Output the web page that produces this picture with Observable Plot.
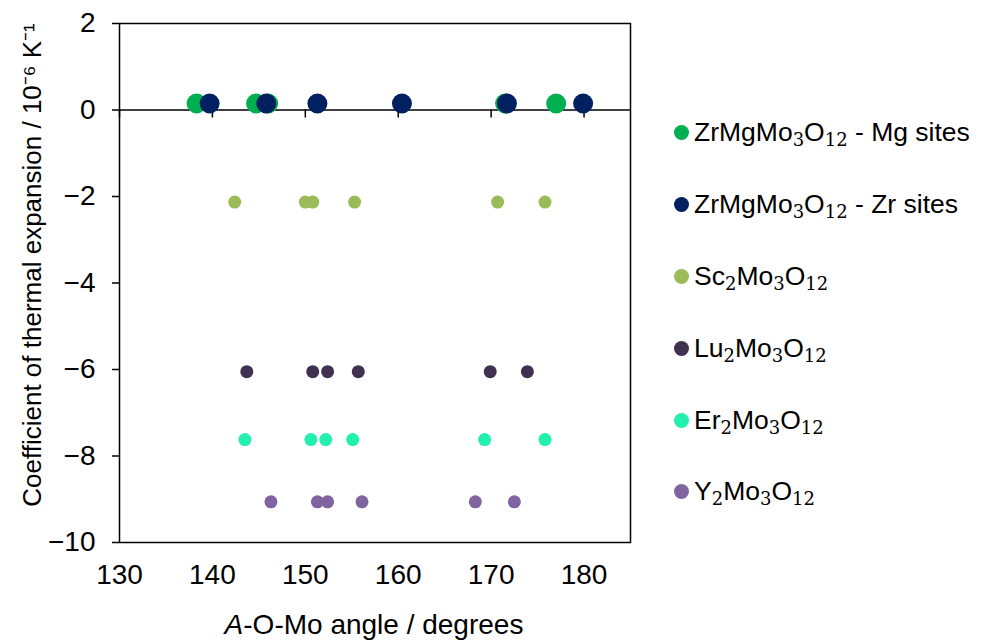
<!DOCTYPE html>
<html><head><meta charset="utf-8">
<script src="https://cdn.jsdelivr.net/npm/d3@7"></script>
<script src="https://cdn.jsdelivr.net/npm/@observablehq/plot@0.6"></script>
<style>
body{margin:0;background:#fff;font-family:"Liberation Sans",Arial,sans-serif;color:#000;}
#wrap{position:relative;width:986px;height:640px;overflow:hidden;}
#chart{position:absolute;left:0;top:0;}
.ytitle{position:absolute;left:31px;top:265px;transform:translate(-50%,-50%) rotate(-90deg);white-space:nowrap;font-size:26px;}
.xtitle{position:absolute;left:374px;top:609px;transform:translateX(-50%);white-space:nowrap;font-size:28px;line-height:32px;}
.legend{position:absolute;left:674px;top:0;}
.item{position:absolute;left:0;white-space:nowrap;font-size:26.5px;line-height:34px;display:flex;align-items:center;transform:translateY(-50%);}
.sw{width:15px;height:15px;border-radius:50%;margin-right:5px;flex:none;}
.item sub{font-family:"DejaVu Serif",serif;font-size:18px;vertical-align:-5px;line-height:0;}
</style></head><body>
<div id="wrap"><div id="chart"></div></div>
<script>
// Series values
const mgX = [138.3, 144.7, 146.0, 171.5, 177.0];
const mgY = [0.15, 0.15, 0.15, 0.15, 0.15];
const zrX = [139.7, 145.8, 151.3, 160.4, 171.7, 179.9];
const zrY = [0.15, 0.15, 0.15, 0.15, 0.15, 0.15];
const scX = [142.4, 150.0, 150.8, 155.3, 170.7, 175.8];
const scY = [-2.13, -2.13, -2.13, -2.13, -2.13, -2.13];
const luX = [143.7, 150.8, 152.4, 155.7, 169.9, 173.9];
const luY = [-6.05, -6.05, -6.05, -6.05, -6.05, -6.05];
const erX = [143.5, 150.6, 152.2, 155.1, 169.3, 175.8];
const erY = [-7.62, -7.62, -7.62, -7.62, -7.62, -7.62];
const yoX = [146.3, 151.3, 152.4, 156.1, 168.3, 172.5];
const yoY = [-9.06, -9.06, -9.06, -9.06, -9.06, -9.06];

const xTicks = [130, 140, 150, 160, 170, 180];
const yTicks = [2, 0, -2, -4, -6, -8, -10];

const seriesNames = ["ZrMgMo3O12 - Mg sites", "ZrMgMo3O12 - Zr sites", "Sc2Mo3O12", "Lu2Mo3O12", "Er2Mo3O12", "Y2Mo3O12"];
const seriesHtml = [
  "ZrMgMo<sub>3</sub>O<sub>12</sub> - Mg sites",
  "ZrMgMo<sub>3</sub>O<sub>12</sub> - Zr sites",
  "Sc<sub>2</sub>Mo<sub>3</sub>O<sub>12</sub>",
  "Lu<sub>2</sub>Mo<sub>3</sub>O<sub>12</sub>",
  "Er<sub>2</sub>Mo<sub>3</sub>O<sub>12</sub>",
  "Y<sub>2</sub>Mo<sub>3</sub>O<sub>12</sub>"
];
const seriesColors = ["#00B050", "#002060", "#9BBB59", "#403151", "#22F0AC", "#8064A2"];
const seriesX = [mgX, zrX, scX, luX, erX, yoX];
const seriesY = [mgY, zrY, scY, luY, erY, yoY];
const seriesR = [10, 10, 6.5, 6.5, 6.5, 6.5];

const minus = d => d < 0 ? "\u2212" + Math.abs(d) : String(d);

const dotMarks = seriesNames.map((name, k) => {
  const data = seriesX[k].map((x, i) => ({series: name, x, y: seriesY[k][i]}));
  return Plot.dot(data, {x: "x", y: "y", r: seriesR[k], fill: seriesColors[k], stroke: "none"});
});

const chart = Plot.plot({
  width: 640,
  height: 600,
  marginLeft: 119,
  marginRight: 10,
  marginTop: 23,
  marginBottom: 58,
  x: {domain: [130, 185]},
  y: {domain: [-10, 2]},
  style: {fontFamily: "'Liberation Sans', Arial, sans-serif", fontSize: "28px", color: "#000", background: "#fff", overflow: "visible"},
  marks: [
    Plot.frame({stroke: "#000", strokeWidth: 1.5}),
    Plot.ruleY([0], {stroke: "#000", strokeWidth: 1.5}),
    Plot.ruleX(xTicks, {x: d => d, y1: d => 0, y2: d => 0, insetBottom: -8, stroke: "#000", strokeWidth: 1.5}),
    Plot.axisX(xTicks, {anchor: "bottom", tickSize: 0, tickPadding: 22, label: null, tickFormat: d => String(d), fontSize: 28}),
    Plot.axisY(yTicks, {anchor: "left", tickSize: 7, tickPadding: 17, label: null, tickFormat: minus, fontSize: 28, strokeWidth: 1.5}),
    ...dotMarks
  ]
});
const wrap = document.getElementById("wrap");
document.getElementById("chart").appendChild(chart);

const yt = document.createElement("div");
yt.className = "ytitle";
yt.textContent = "Coefficient of thermal expansion / 10\u207B\u2076 K\u207B\u00B9";
wrap.appendChild(yt);

const xt = document.createElement("div");
xt.className = "xtitle";
xt.innerHTML = "<i>A</i>-O-Mo angle / degrees";
wrap.appendChild(xt);

const legend = document.createElement("div");
legend.className = "legend";
const rowY = [132, 204, 276, 348, 420, 491];
seriesHtml.forEach((h, k) => {
  const it = document.createElement("div");
  it.className = "item";
  it.style.top = rowY[k] + "px";
  it.innerHTML = `<span class="sw" style="background:${seriesColors[k]}"></span><span>${h}</span>`;
  legend.appendChild(it);
});
wrap.appendChild(legend);
</script>
</body></html>
